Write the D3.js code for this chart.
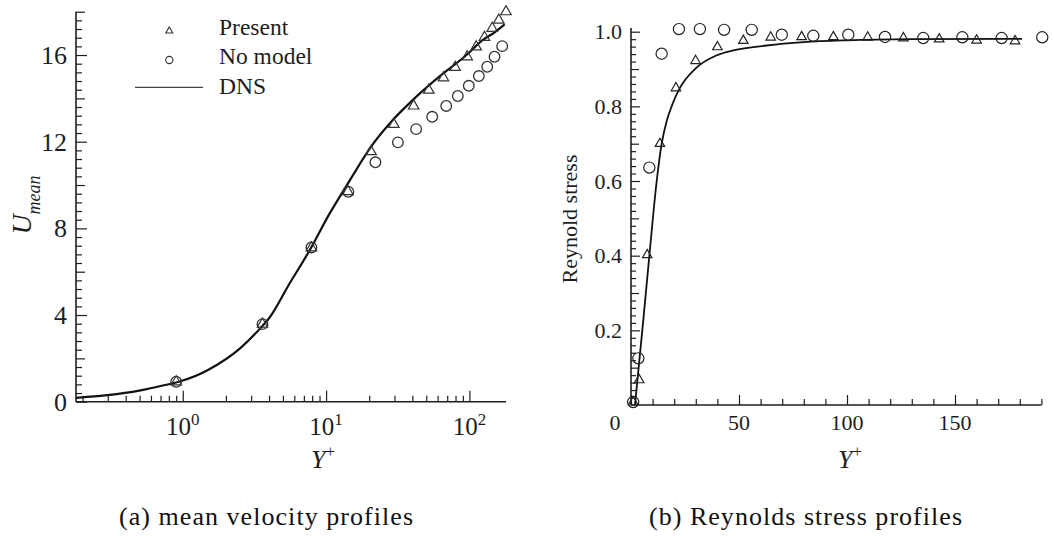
<!DOCTYPE html>
<html><head><meta charset="utf-8">
<script src="https://cdn.jsdelivr.net/npm/d3@7"></script>
<style>body{margin:0;background:#fff}svg{display:block}</style>
</head><body>
<svg id="c" width="1054" height="536"></svg>
<script>
// ---------- data: (a) mean velocity ----------
const presentYPlus = [0.9, 3.6, 7.9, 14.2, 20.6, 29.7, 40.8, 52.1, 65.9, 79.6, 96.5, 111.5, 127.4, 144.2, 160.4, 180];
const presentU     = [0.92, 3.58, 7.1, 9.7, 11.54, 12.8, 13.65, 14.38, 14.95, 15.43, 15.92, 16.38, 16.82, 17.23, 17.61, 18.0];
const noModelYPlus = [0.9, 3.6, 7.9, 14.3, 22.1, 31.7, 42.5, 55.0, 68.9, 83.0, 99.0, 116.4, 133.1, 149.7, 169.3];
const noModelU     = [0.92, 3.58, 7.12, 9.69, 11.05, 11.97, 12.58, 13.15, 13.65, 14.11, 14.58, 15.03, 15.46, 15.92, 16.41];
const dnsYPlus     = [0.18, 0.55, 1.5, 2.5, 3.6, 4.0, 5.5, 7.7, 10.6, 14.6, 20.6, 29.2, 40.2, 61.6, 95.4, 123.5, 150, 176];
const dnsU         = [0.18, 0.57, 1.46, 2.45, 3.5, 3.85, 5.4, 7.0, 8.69, 10.2, 11.77, 13.0, 13.92, 15.0, 16.0, 16.69, 17.05, 17.42];

// ---------- data: (b) Reynolds stress ----------
const presentRYPlus = [1.0, 3.8, 7.5, 13.4, 20.8, 29.9, 40.0, 52.0, 64.7, 79.0, 93.7, 109.6, 126.1, 142.7, 160.0, 177.8];
const presentRS     = [0.008, 0.067, 0.402, 0.70, 0.849, 0.922, 0.959, 0.976, 0.985, 0.986, 0.986, 0.985, 0.983, 0.980, 0.977, 0.975];
const noModelRYPlus = [1.0, 3.4, 8.5, 14.2, 22.2, 31.9, 43.1, 55.9, 69.8, 84.4, 100.6, 117.6, 135.3, 153.4, 171.6, 190.4];
const noModelRS     = [0.008, 0.125, 0.636, 0.941, 1.007, 1.007, 1.005, 1.005, 0.992, 0.989, 0.992, 0.986, 0.983, 0.985, 0.983, 0.985];
const dnsRYPlus     = [1.85, 5.7, 8.5, 11.9, 14.2, 16.5, 18.8, 22.7, 29.6, 39.7, 47.4, 62.8, 80, 100, 130, 181];
const dnsRS         = [0.0, 0.228, 0.40, 0.60, 0.70, 0.76, 0.80, 0.85, 0.90, 0.937, 0.95, 0.963, 0.972, 0.977, 0.980, 0.981];

// ---------- ticks / labels ----------
const velMajorX = [1, 10, 100];
const velMajorXExp = ["0", "1", "2"];
const velMajorY = [0, 4, 8, 12, 16];
const velMedY = [2, 6, 10, 14];
const rsMajorX = [0, 50, 100, 150];
const rsMajorY = [0.2, 0.4, 0.6, 0.8, 1.0];
const rsMajorYLabels = ["0.2", "0.4", "0.6", "0.8", "1.0"];
const legendLabels = ["Present", "No model", "DNS"];
const captions = ["(a) mean velocity profiles", "(b) Reynolds stress profiles"];

const zip = (a, b) => a.map((v, i) => [v, b[i]]);
const svg = d3.select('#c');
const ink = '#1e1e1e';
const serif = "'Liberation Serif', 'Times New Roman', serif";

function tri(cx, cy, w) {
  const h = w * 0.87;
  return `M${cx},${cy - 2 * h / 3}L${cx + w / 2},${cy + h / 3}L${cx - w / 2},${cy + h / 3}Z`;
}

function tickAxis(g, axisFn, scale, values, size) {
  const a = axisFn(scale).tickValues(values).tickSize(size).tickSizeOuter(0).tickFormat('');
  const sel = g.append('g').call(a);
  sel.select('.domain').remove();
  sel.selectAll('line').attr('stroke', ink).attr('stroke-width', 1.2);
  return sel;
}

// ================= Panel (a) =================
const xL = d3.scaleLog().domain([0.18, 180]).range([76, 506]);
const yL = d3.scaleLinear().domain([0, 18]).range([401.7, 11.7]);
const gA = svg.append('g');

const minorLX = [];
[0.1, 1, 10].forEach(d => { for (let k = 2; k <= 9; k++) { const v = d * k; if (v >= 0.18 && v <= 180) minorLX.push(v); } });
tickAxis(gA.append('g').attr('transform', `translate(0,${yL(0)})`), d3.axisBottom, xL, velMajorX, -11);
tickAxis(gA.append('g').attr('transform', `translate(0,${yL(0)})`), d3.axisBottom, xL, minorLX, -6);
const minorLY = d3.range(0, 18.001, 0.4).map(v => +v.toFixed(2)).filter(v => Math.abs(v / 2 - Math.round(v / 2)) > 1e-6);
tickAxis(gA.append('g').attr('transform', `translate(${xL(0.18)},0)`), d3.axisLeft, yL, velMajorY, -11);
tickAxis(gA.append('g').attr('transform', `translate(${xL(0.18)},0)`), d3.axisLeft, yL, velMedY.concat([18]), -9);
tickAxis(gA.append('g').attr('transform', `translate(${xL(0.18)},0)`), d3.axisLeft, yL, minorLY, -6);
gA.append('line').attr('x1', xL(0.18)).attr('x2', xL(180)).attr('y1', yL(0)).attr('y2', yL(0)).attr('stroke', ink).attr('stroke-width', 1.6);
gA.append('line').attr('x1', xL(0.18)).attr('x2', xL(0.18)).attr('y1', yL(0)).attr('y2', yL(18)).attr('stroke', ink).attr('stroke-width', 1.6);

gA.selectAll('text.yl').data(velMajorY).join('text')
  .attr('x', 67).attr('y', d => yL(d)).attr('dy', '0.35em').attr('text-anchor', 'end')
  .attr('font-family', serif).attr('font-size', 26).attr('fill', ink).text(d => d);
velMajorX.forEach((v, i) => {
  const t = gA.append('text').attr('x', xL(v)).attr('y', 435).attr('text-anchor', 'middle')
    .attr('font-family', serif).attr('font-size', 25).attr('fill', ink);
  t.append('tspan').text('10');
  t.append('tspan').attr('font-size', 17).attr('dy', -10).text(velMajorXExp[i]);
});
const yt = gA.append('text').attr('x', 323).attr('y', 468).attr('text-anchor', 'middle')
  .attr('font-family', serif).attr('font-size', 26).attr('fill', ink);
yt.append('tspan').attr('font-style', 'italic').text('Y');
yt.append('tspan').attr('font-size', 17).attr('dy', -11).text('+');
const ut = gA.append('text').attr('transform', 'translate(31,205) rotate(-90)').attr('text-anchor', 'middle')
  .attr('font-family', serif).attr('font-size', 28).attr('font-style', 'italic').attr('fill', ink);
ut.append('tspan').text('U');
ut.append('tspan').attr('font-size', 18).attr('dy', 9).text('mean');

gA.append('path').datum(zip(dnsYPlus, dnsU))
  .attr('d', d3.line().x(d => xL(d[0])).y(d => yL(d[1])).curve(d3.curveMonotoneX))
  .attr('fill', 'none').attr('stroke', '#111').attr('stroke-width', 2.2);
gA.selectAll('path.pa').data(zip(presentYPlus, presentU)).join('path')
  .attr('d', d => tri(xL(d[0]), yL(d[1]), 10.5)).attr('fill', 'none').attr('stroke', '#333').attr('stroke-width', 1.2);
gA.selectAll('circle.na').data(zip(noModelYPlus, noModelU)).join('circle')
  .attr('cx', d => xL(d[0])).attr('cy', d => yL(d[1])).attr('r', 5.3)
  .attr('fill', 'none').attr('stroke', '#333').attr('stroke-width', 1.3);

// legend
gA.append('path').attr('d', tri(169.3, 31, 7)).attr('fill', 'none').attr('stroke', '#333').attr('stroke-width', 1.1);
gA.append('circle').attr('cx', 169.3).attr('cy', 60).attr('r', 3.6).attr('fill', 'none').attr('stroke', '#333').attr('stroke-width', 1.1);
gA.append('line').attr('x1', 135).attr('x2', 203).attr('y1', 87.3).attr('y2', 87.3).attr('stroke', '#444').attr('stroke-width', 1.2);
gA.selectAll('text.lg').data(legendLabels).join('text')
  .attr('x', 219).attr('y', (d, i) => [35, 64, 94.3][i])
  .attr('font-family', serif).attr('font-size', 23.5).attr('fill', ink).text(d => d);

svg.append('text').attr('x', 119).attr('y', 525).attr('textLength', 294).attr('lengthAdjust', 'spacing')
  .attr('font-family', serif).attr('font-size', 26).attr('fill', '#111').text(captions[0]);

// ================= Panel (b) =================
const xR = d3.scaleLinear().domain([0, 190]).range([631, 631 + 190 * 2.16]);
const yR = d3.scaleLinear().domain([0, 1]).range([405, 31.7]);
const gB = svg.append('g');

const minorRX = d3.range(10, 191, 10).filter(v => v % 50 !== 0);
tickAxis(gB.append('g').attr('transform', `translate(0,${yR(0)})`), d3.axisBottom, xR, rsMajorX, -10);
tickAxis(gB.append('g').attr('transform', `translate(0,${yR(0)})`), d3.axisBottom, xR, minorRX, -6);
const medRY = [0.1, 0.3, 0.5, 0.7, 0.9];
const minorRY = d3.range(0.02, 1.0, 0.02).map(v => +v.toFixed(2)).filter(v => Math.abs(v * 10 - Math.round(v * 10)) > 1e-6);
tickAxis(gB.append('g').attr('transform', `translate(${xR(0)},0)`), d3.axisLeft, yR, rsMajorY, -9);
tickAxis(gB.append('g').attr('transform', `translate(${xR(0)},0)`), d3.axisLeft, yR, medRY, -8);
tickAxis(gB.append('g').attr('transform', `translate(${xR(0)},0)`), d3.axisLeft, yR, minorRY, -5);
gB.append('line').attr('x1', xR(0)).attr('x2', xR(190)).attr('y1', yR(0)).attr('y2', yR(0)).attr('stroke', ink).attr('stroke-width', 1.6);
gB.append('line').attr('x1', xR(0)).attr('x2', xR(0)).attr('y1', yR(0)).attr('y2', yR(1.01)).attr('stroke', ink).attr('stroke-width', 1.6);

gB.selectAll('text.yl').data(rsMajorY).join('text')
  .attr('x', 622).attr('y', d => yR(d)).attr('dy', '0.35em').attr('text-anchor', 'end')
  .attr('font-family', serif).attr('font-size', 22).attr('fill', ink).text((d, i) => rsMajorYLabels[i]);
gB.selectAll('text.xl').data(rsMajorX).join('text')
  .attr('x', d => d === 0 ? xR(d) - 16 : xR(d)).attr('y', 430).attr('text-anchor', 'middle')
  .attr('font-family', serif).attr('font-size', 22).attr('fill', ink).text(d => d);
const yt2 = gB.append('text').attr('x', 850).attr('y', 468).attr('text-anchor', 'middle')
  .attr('font-family', serif).attr('font-size', 26).attr('fill', ink);
yt2.append('tspan').attr('font-style', 'italic').text('Y');
yt2.append('tspan').attr('font-size', 17).attr('dy', -11).text('+');
gB.append('text').attr('transform', 'translate(577,219) rotate(-90)').attr('text-anchor', 'middle')
  .attr('font-family', serif).attr('font-size', 22).attr('fill', ink).text('Reynold stress');

gB.append('path').datum(zip(dnsRYPlus, dnsRS))
  .attr('d', d3.line().x(d => xR(d[0])).y(d => yR(d[1])).curve(d3.curveMonotoneX))
  .attr('fill', 'none').attr('stroke', '#111').attr('stroke-width', 1.8);
gB.selectAll('path.pb').data(zip(presentRYPlus, presentRS)).join('path')
  .attr('d', d => tri(xR(d[0]), yR(d[1]), 9.5)).attr('fill', 'none').attr('stroke', '#222').attr('stroke-width', 1.2);
gB.selectAll('circle.nb').data(zip(noModelRYPlus, noModelRS)).join('circle')
  .attr('cx', d => xR(d[0])).attr('cy', d => yR(d[1])).attr('r', 5.6)
  .attr('fill', 'none').attr('stroke', '#222').attr('stroke-width', 1.2);

svg.append('text').attr('x', 649).attr('y', 525).attr('textLength', 313).attr('lengthAdjust', 'spacing')
  .attr('font-family', serif).attr('font-size', 26).attr('fill', '#111').text(captions[1]);
</script>
</body></html>
